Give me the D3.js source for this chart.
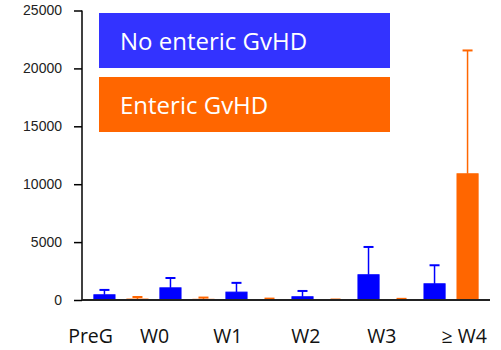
<!DOCTYPE html>
<html>
<head>
<meta charset="utf-8">
<script src="https://cdn.jsdelivr.net/npm/d3@7"></script>
<style>
  body { margin: 0; background: #fff; }
  svg { display: block; }
</style>
</head>
<body>
<script>
// data
const timepoints = ["PreG", "W0", "W1", "W2", "W3", "\u2265 W4"];
const seriesNames = ["No enteric GvHD", "Enteric GvHD"];
const noEnteric = [450, 1050, 680, 280, 2180, 1400];
const noEntericErr = [420, 850, 800, 500, 2400, 1600];
const enteric = [80, 60, 40, 20, 40, 10900];
const entericErr = [180, 150, 80, 20, 60, 10650];
const yTicks = [0, 5000, 10000, 15000, 20000, 25000];
// label offsets (in bar steps from first bar), labels are not centred in the original
const labelOffsets = [-0.42, 1.52, 3.74, 6.1, 8.4, 10.9];

const colors = ["#0000ff", "#ff6600"];
const legendColors = ["#3333ff", "#ff6600"];

const w = 501;
const h = 350;

// flatten to 12 bars, alternating groups
let bars = [];
timepoints.forEach(function (t, i) {
  bars.push({ key: t + "-0", s: 0, v: noEnteric[i], e: noEntericErr[i] });
  bars.push({ key: t + "-1", s: 1, v: enteric[i], e: entericErr[i] });
});

const xScale = d3
  .scaleBand()
  .domain(bars.map((d) => d.key))
  .range([82, 490])
  .padding(0.36);

const yScale = d3.scaleLinear().domain([0, 25000]).range([300, 10.5]);

const svg = d3.select("body").append("svg").attr("width", w).attr("height", h);

// bars
svg
  .selectAll("rect.bar")
  .data(bars)
  .enter()
  .append("rect")
  .attr("class", "bar")
  .attr("x", (d) => xScale(d.key))
  .attr("y", (d) => yScale(d.v))
  .attr("width", xScale.bandwidth())
  .attr("height", (d) => yScale(0) - yScale(d.v))
  .attr("fill", (d) => colors[d.s])
  .attr("stroke", (d) => colors[d.s])
  .attr("stroke-width", 1);

// error bars
const errs = svg.append("g");
errs
  .selectAll("line.stem")
  .data(bars)
  .enter()
  .append("line")
  .attr("x1", (d) => xScale(d.key) + xScale.bandwidth() / 2)
  .attr("x2", (d) => xScale(d.key) + xScale.bandwidth() / 2)
  .attr("y1", (d) => yScale(d.v))
  .attr("y2", (d) => yScale(d.v + d.e))
  .attr("stroke", (d) => colors[d.s])
  .attr("stroke-width", 1.5);

errs
  .selectAll("line.cap")
  .data(bars)
  .enter()
  .append("line")
  .attr("x1", (d) => xScale(d.key) + xScale.bandwidth() / 2 - 5)
  .attr("x2", (d) => xScale(d.key) + xScale.bandwidth() / 2 + 5)
  .attr("y1", (d) => yScale(d.v + d.e))
  .attr("y2", (d) => yScale(d.v + d.e))
  .attr("stroke", (d) => colors[d.s])
  .attr("stroke-width", 2);

// y axis
const yAxis = d3.axisLeft(yScale).tickValues(yTicks).tickSize(8).tickPadding(12).tickFormat(d3.format("d"));
svg
  .append("g")
  .attr("transform", "translate(82,0)")
  .call(yAxis)
  .call((g) => g.selectAll("path, line").attr("stroke", "#000").attr("stroke-width", 1.5))
  .call((g) => g.select(".domain").attr("d", "M0,300V10.5"))
  .call((g) =>
    g.selectAll("text").attr("font-family", "Liberation Sans, Arial, sans-serif").attr("font-size", 14).attr("fill", "#222")
  );

// x axis line
svg
  .append("line")
  .attr("x1", 82)
  .attr("x2", 490)
  .attr("y1", yScale(0))
  .attr("y2", yScale(0))
  .attr("stroke", "#222")
  .attr("stroke-width", 2);

// x labels
const firstCenter = xScale(bars[0].key) + xScale.bandwidth() / 2;
svg
  .selectAll("text.xl")
  .data(timepoints)
  .enter()
  .append("text")
  .attr("class", "xl")
  .attr("x", (d, i) => firstCenter + labelOffsets[i] * xScale.step())
  .attr("y", 343)
  .attr("text-anchor", "middle")
  .attr("font-family", "Open Sans, sans-serif")
  .attr("font-size", 19.5)
  .attr("fill", "#111")
  .text((d) => d);

// legend
const legend = svg
  .selectAll("g.legend")
  .data(seriesNames)
  .enter()
  .append("g")
  .attr("transform", (d, i) => "translate(99," + (13 + i * 64) + ")");

legend
  .append("rect")
  .attr("width", 291)
  .attr("height", 55)
  .attr("fill", (d, i) => legendColors[i]);

legend
  .append("text")
  .attr("x", 21)
  .attr("y", 37)
  .attr("font-family", "Open Sans, sans-serif")
  .attr("font-size", 24)
  .attr("fill", "#fff")
  .text((d) => d);
</script>
</body>
</html>
